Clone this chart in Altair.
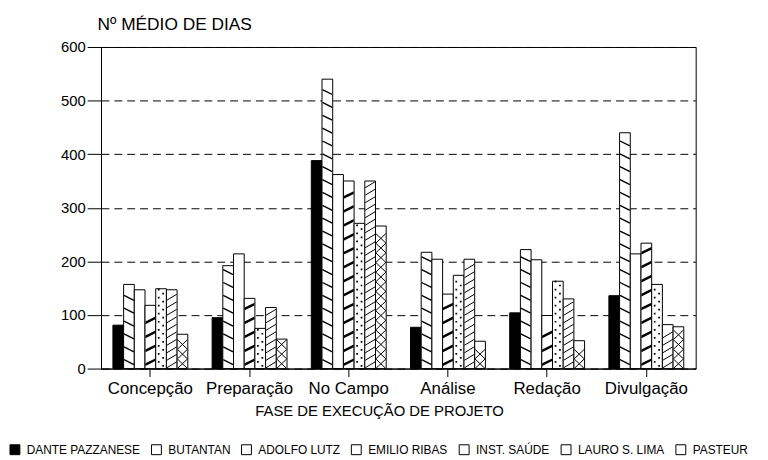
import altair as alt
import pandas as pd

phases = ["Concepção", "Preparação", "No Campo", "Análise", "Redação", "Divulgação"]
series = ["DANTE PAZZANESE", "BUTANTAN", "ADOLFO LUTZ", "EMILIO RIBAS",
          "INST. SAÚDE", "LAURO S. LIMA", "PASTEUR"]

dante = [81, 95, 388, 77, 104, 136]
butantan = [157, 192, 540, 217, 222, 440]
adolfo = [147, 214, 362, 204, 203, 214]
emilio = [118, 131, 350, 139, 99, 234]
inst = [149, 75, 271, 174, 163, 157]
lauro = [147, 114, 350, 204, 130, 82]
pasteur = [64, 55, 266, 51, 52, 78]

values = [dante, butantan, adolfo, emilio, inst, lauro, pasteur]
fills = ["black", "white", "white", "white", "white", "white", "white"]

rows = []
for s, vals in zip(series, values):
    for f, v in zip(phases, vals):
        rows.append({"fase": f, "serie": s, "valor": v})
df = pd.DataFrame(rows)

FONT = "Liberation Sans"

x_axis = alt.Axis(labelAngle=0, labelFontSize=17, labelPadding=4, tickSize=8,
                  tickColor="black", domainColor="black", labelColor="black",
                  titleFontSize=15, titleFontWeight="normal", titleColor="black",
                  titleX=281, titleY=42, titleBaseline="middle", titleAlign="center",
                  grid=False)
y_axis = alt.Axis(values=[0, 100, 200, 300, 400, 500, 600], grid=True,
                  gridDash=[8, 5], gridColor="black", gridWidth=1, gridOpacity=1,
                  labelFontSize=15, labelPadding=2, tickSize=14, tickColor="black",
                  domainColor="black", labelColor="black",
                  titleAngle=0, titleX=-4, titleY=-23, titleAlign="left",
                  titleBaseline="middle", titleFontSize=17.5,
                  titleFontWeight="normal", titleColor="black")

X = alt.X("fase:N", sort=phases, title="FASE DE EXECUÇÃO DE PROJETO",
          scale=alt.Scale(domain=phases, paddingInner=0.245, paddingOuter=0.12),
          axis=x_axis)
XO = alt.XOffset("serie:N", sort=series,
                 scale=alt.Scale(domain=series, paddingInner=0, paddingOuter=0))
YS = alt.Scale(domain=[0, 600], nice=False)

bars = alt.Chart(df).mark_bar(stroke="black", strokeWidth=1).encode(
    x=X,
    xOffset=XO,
    y=alt.Y("valor:Q", scale=YS, title="Nº MÉDIO DE DIAS", axis=y_axis),
    fill=alt.Fill("serie:N", sort=series,
                  scale=alt.Scale(domain=series, range=fills),
                  legend=alt.Legend(orient="none", legendX=-93, legendY=401,
                                    direction="horizontal", columns=7, title=None,
                                    symbolType="square", symbolSize=100,
                                    symbolStrokeColor="black", symbolStrokeWidth=1,
                                    labelFontSize=12, labelFont=FONT,
                                    labelColor="black", columnPadding=9,
                                    labelOffset=6, labelLimit=300)),
)


def pattern(serie, step, start, margin, shape, filled, sw=1.0, size=100):
    return (
        alt.Chart(df)
        .transform_filter(alt.datum.serie == serie)
        .transform_calculate(gy=f"sequence({start}, datum.valor - {margin}, {step})")
        .transform_flatten(["gy"])
        .mark_point(shape=shape, filled=filled, size=size, strokeWidth=sw,
                    color="black", opacity=1)
        .encode(x=X, xOffset=XO,
                y=alt.Y("gy:Q", scale=YS, title="Nº MÉDIO DE DIAS", axis=y_axis))
    )


p_butantan = pattern("BUTANTAN", 24, 12, 6, "M -1 -0.5 L 1 0.5", False, 1.4)
p_emilio = pattern("EMILIO RIBAS", 26, 13, 8,
                   "M -1 0.35 L 1 -0.65 L 1 -0.1 L -1 0.9 Z", True)
p_inst = pattern("INST. SAÚDE", 15, 8, 4,
                 "M -0.65 -0.65 L -0.3 -0.65 L -0.3 -0.3 L -0.65 -0.3 Z "
                 "M 0.25 0.15 L 0.6 0.15 L 0.6 0.5 L 0.25 0.5 Z", True)
p_lauro = pattern("LAURO S. LIMA", 14, 7, 5, "M -1 0.6 L 1 -0.6", False, 1.0)
p_pasteur = pattern("PASTEUR", 18, 9, 8, "M -1 -0.95 L 1 0.95 M -1 0.95 L 1 -0.95",
                    False, 1.0)

chart = alt.layer(bars, p_butantan, p_emilio, p_inst, p_lauro, p_pasteur).properties(
    width=601, height=325,
    autosize=alt.AutoSizeParams(type="none"),
    padding={"left": 94, "top": 37, "right": 65, "bottom": 92},
).configure(font=FONT).configure_view(stroke="black", strokeWidth=1)

chart.save("out.html", embed_options={"renderer": "svg", "actions": False})
